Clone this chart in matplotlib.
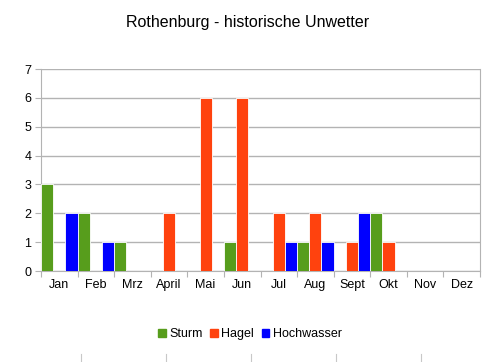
"""Rothenburg - historische Unwetter: grouped bars per month."""

import matplotlib
matplotlib.use("Agg")

import matplotlib.pyplot as plt
import matplotlib.patches as mpatches
from matplotlib.lines import Line2D
import numpy as np

plt.rcParams["font.family"] = ["Liberation Sans", "DejaVu Sans"]

months = ["Jan", "Feb", "Mrz", "April", "Mai", "Jun",
          "Jul", "Aug", "Sept", "Okt", "Nov", "Dez"]
sturm = [3, 2, 1, 0, 0, 1, 0, 1, 0, 2, 0, 0]
hagel = [0, 0, 0, 2, 6, 6, 2, 2, 1, 1, 0, 0]
hochwasser = [2, 1, 0, 0, 0, 0, 1, 1, 2, 0, 0, 0]

series = [("Sturm", sturm, "#579d1c"),
          ("Hagel", hagel, "#ff420e"),
          ("Hochwasser", hochwasser, "#0000ff")]

fig = plt.figure(figsize=(4.96, 3.62), dpi=100)
fig.patch.set_facecolor("white")
W, H = 496, 362
ax = fig.add_axes([41 / W, 1 - 271 / H, (480 - 41) / W, (271 - 69) / H])

x = np.arange(len(months))
w = 1 / 3
for i, (name, vals, col) in enumerate(series):
    ax.bar(x - 0.5 + w * i, vals, width=w, align="edge", color=col,
           edgecolor="white", linewidth=0.6, zorder=3)

ax.set_xlim(-0.5, len(months) - 0.5)
ax.set_ylim(0, 7)
ax.set_yticks(range(0, 8))
ax.yaxis.grid(True, color="#b3b3b3", linewidth=1, zorder=0)

# category boundary ticks
ax.set_xticks(np.arange(-0.5, len(months)), minor=False)
ax.set_xticklabels([])
ax.set_xticks(x, minor=True)
ax.set_xticklabels(months, minor=True, fontsize=9)
ax.tick_params(axis="x", which="major", length=4, color="#b3b3b3", direction="out")
ax.tick_params(axis="x", which="minor", length=0, pad=6)
ax.tick_params(axis="y", length=4, color="#b3b3b3", labelsize=9, pad=3)

for side in ["left", "bottom", "right"]:
    ax.spines[side].set_color("#b3b3b3")
ax.spines["top"].set_visible(False)

fig.text(0.5, 1 - 22 / H, "Rothenburg - historische Unwetter",
         ha="center", va="center", fontsize=11.5)

handles = [mpatches.Patch(color=c, label=n) for n, _, c in series]
fig.legend(handles=handles, loc="center", bbox_to_anchor=(250 / W, 1 - 334 / H),
           ncol=3, frameon=False, fontsize=9, handlelength=0.6, handleheight=0.6,
           handletextpad=0.3, columnspacing=0.6)

# partial ticks of the neighbouring chart below
for px in [81, 166, 251, 336, 421]:
    fig.add_artist(Line2D([px / W, px / W], [0, 1 - 354 / H],
                          color="#c8c8c8", linewidth=0.8))

fig.savefig("out.png", dpi=100)
